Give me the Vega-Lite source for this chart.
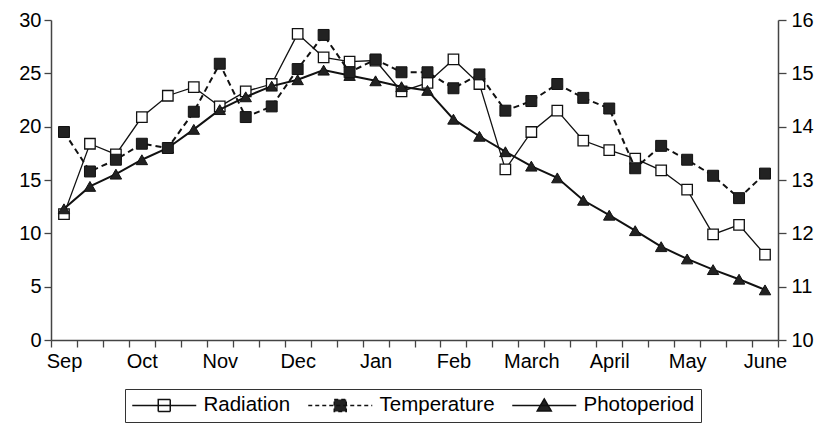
{
  "$schema": "https://vega.github.io/schema/vega-lite/v6.json",
  "width": 727,
  "height": 320,
  "autosize": {"type": "none"},
  "padding": {"left": 51, "top": 20, "right": 41, "bottom": 87},
  "background": "white",
  "config": {
    "view": {"stroke": null},
    "font": "Liberation Sans",
    "axis": {
      "grid": false,
      "domainColor": "#444",
      "domainWidth": 1.5,
      "tickColor": "#444",
      "tickWidth": 1.3,
      "labelColor": "black",
      "labelFont": "Liberation Sans",
      "labelFontSize": 20,
      "title": null
    },
    "legend": {
      "title": null,
      "orient": "none",
      "direction": "horizontal",
      "legendX": 74,
      "legendY": 369,
      "padding": 6,
      "strokeColor": "#333",
      "symbolSize": 100,
      "symbolStrokeWidth": 1.5,
      "labelFontSize": 20.5,
      "labelFont": "Liberation Sans",
      "labelColor": "black",
      "labelOffset": 52,
      "columnPadding": 14
    }
  },
  "datasets": {
    "d": [
      {"i": 0, "Radiation": 11.8, "Temperature": 19.5, "Photoperiod": 12.46},
      {"i": 1, "Radiation": 18.4, "Temperature": 15.8, "Photoperiod": 12.88},
      {"i": 2, "Radiation": 17.4, "Temperature": 16.9, "Photoperiod": 13.11},
      {"i": 3, "Radiation": 20.9, "Temperature": 18.4, "Photoperiod": 13.38},
      {"i": 4, "Radiation": 22.9, "Temperature": 18.0, "Photoperiod": 13.6},
      {"i": 5, "Radiation": 23.7, "Temperature": 21.4, "Photoperiod": 13.95},
      {"i": 6, "Radiation": 21.9, "Temperature": 25.9, "Photoperiod": 14.32},
      {"i": 7, "Radiation": 23.3, "Temperature": 20.9, "Photoperiod": 14.56},
      {"i": 8, "Radiation": 24.0, "Temperature": 21.9, "Photoperiod": 14.76},
      {"i": 9, "Radiation": 28.7, "Temperature": 25.4, "Photoperiod": 14.88},
      {"i": 10, "Radiation": 26.5, "Temperature": 28.6, "Photoperiod": 15.06},
      {"i": 11, "Radiation": 26.1, "Temperature": 25.1, "Photoperiod": 14.96},
      {"i": 12, "Radiation": 26.2, "Temperature": 26.3, "Photoperiod": 14.86},
      {"i": 13, "Radiation": 23.3, "Temperature": 25.1, "Photoperiod": 14.75},
      {"i": 14, "Radiation": 24.1, "Temperature": 25.1, "Photoperiod": 14.68},
      {"i": 15, "Radiation": 26.3, "Temperature": 23.6, "Photoperiod": 14.14},
      {"i": 16, "Radiation": 24.0, "Temperature": 24.9, "Photoperiod": 13.82},
      {"i": 17, "Radiation": 16.0, "Temperature": 21.5, "Photoperiod": 13.53},
      {"i": 18, "Radiation": 19.5, "Temperature": 22.4, "Photoperiod": 13.26},
      {"i": 19, "Radiation": 21.5, "Temperature": 24.0, "Photoperiod": 13.04},
      {"i": 20, "Radiation": 18.7, "Temperature": 22.7, "Photoperiod": 12.62},
      {"i": 21, "Radiation": 17.8, "Temperature": 21.7, "Photoperiod": 12.34},
      {"i": 22, "Radiation": 17.0, "Temperature": 16.1, "Photoperiod": 12.05},
      {"i": 23, "Radiation": 15.9, "Temperature": 18.2, "Photoperiod": 11.75},
      {"i": 24, "Radiation": 14.1, "Temperature": 16.9, "Photoperiod": 11.52},
      {"i": 25, "Radiation": 9.9, "Temperature": 15.4, "Photoperiod": 11.32},
      {"i": 26, "Radiation": 10.8, "Temperature": 13.3, "Photoperiod": 11.14},
      {"i": 27, "Radiation": 8.0, "Temperature": 15.6, "Photoperiod": 10.94}
    ]
  },
  "data": {"name": "d"},
  "encoding": {
    "x": {
      "field": "i",
      "type": "ordinal",
      "scale": {"type": "band", "paddingInner": 0, "paddingOuter": 0},
      "axis": {
        "orient": "bottom",
        "tickBand": "extent",
        "tickSize": 7,
        "labelPadding": 4,
        "labelAngle": 0,
        "labelOverlap": false,
        "labelFlush": false,
        "labelExpr": "datum.value % 3 == 0 ? ['Sep','Oct','Nov','Dec','Jan','Feb','March','April','May','June'][datum.value / 3] : ''"
      }
    }
  },
  "layer": [
    {
      "layer": [
        {
          "mark": {"type": "line", "color": "#111", "strokeWidth": 1.3},
          "encoding": {
            "y": {
              "field": "Radiation",
              "type": "quantitative",
              "scale": {"domain": [0, 30], "nice": false, "zero": false},
              "axis": {"orient": "left", "values": [0, 5, 10, 15, 20, 25, 30], "tickSize": 7, "labelPadding": 3}
            }
          }
        },
        {
          "mark": {"type": "point", "shape": "square", "filled": true, "fill": "white", "stroke": "#111", "strokeWidth": 1.3, "size": 110, "opacity": 1},
          "encoding": {
            "y": {"field": "Radiation", "type": "quantitative"}
          }
        },
        {
          "transform": [{"filter": "false"}],
          "mark": {"type": "point", "filled": true, "size": 100, "strokeWidth": 1.5, "opacity": 1},
          "encoding": {
            "y": {"field": "Radiation", "type": "quantitative"},
            "shape": {
              "field": "series",
              "type": "nominal",
              "scale": {
                "domain": ["Radiation", "Temperature", "Photoperiod"],
                "range": ["M-1.8,0H11M3.4,-1.2H5.8V1.2H3.4Z", "M-1.8,0H11M3.4,-1.2H5.8V1.2H3.4Z", "M-1.8,0H11M4.6,-1.3L6,1.1H3.2Z"]
              }
            },
            "fill": {
              "field": "series",
              "type": "nominal",
              "scale": {"domain": ["Radiation", "Temperature", "Photoperiod"], "range": ["white", "#222", "#222"]}
            },
            "stroke": {
              "field": "series",
              "type": "nominal",
              "scale": {"domain": ["Radiation", "Temperature", "Photoperiod"], "range": ["#111", "#111", "#111"]}
            },
            "strokeDash": {
              "field": "series",
              "type": "nominal",
              "scale": {"domain": ["Radiation", "Temperature", "Photoperiod"], "range": [[1, 0], [4, 3], [1, 0]]}
            }
          }
        }
      ]
    },
    {
      "layer": [
        {
          "mark": {"type": "line", "color": "#111", "strokeWidth": 2},
          "encoding": {
            "y": {
              "field": "Photoperiod",
              "type": "quantitative",
              "scale": {"domain": [10, 16], "nice": false, "zero": false},
              "axis": {"orient": "right", "values": [10, 11, 12, 13, 14, 15, 16], "tickSize": 8, "labelPadding": 5}
            }
          }
        },
        {
          "mark": {"type": "point", "shape": "triangle-up", "filled": true, "fill": "#222", "stroke": "#111", "strokeWidth": 1, "size": 130, "opacity": 1},
          "encoding": {
            "y": {"field": "Photoperiod", "type": "quantitative"}
          }
        }
      ]
    },
    {
      "layer": [
        {
          "mark": {"type": "line", "color": "#111", "strokeWidth": 2, "strokeDash": [6, 4]},
          "encoding": {
            "y": {
              "field": "Temperature",
              "type": "quantitative",
              "scale": {"domain": [0, 30], "nice": false, "zero": false},
              "axis": null
            }
          }
        },
        {
          "mark": {"type": "point", "shape": "square", "filled": true, "fill": "#222", "stroke": "#111", "strokeWidth": 1, "size": 120, "opacity": 1},
          "encoding": {
            "y": {"field": "Temperature", "type": "quantitative"}
          }
        }
      ]
    }
  ],
  "resolve": {"scale": {"y": "independent"}}
}
